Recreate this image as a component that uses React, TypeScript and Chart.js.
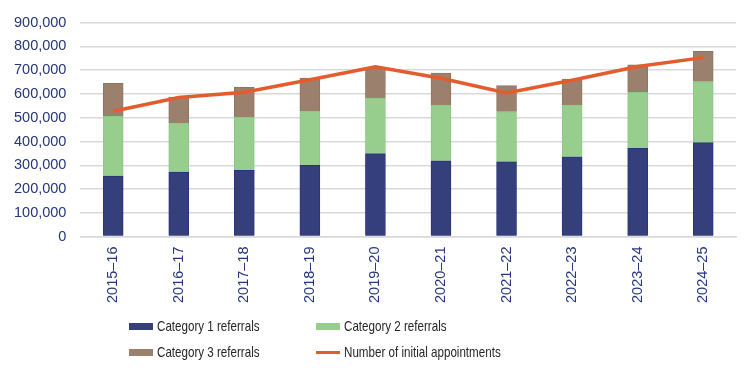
import React, { useEffect, useRef } from "react";
import { Chart, registerables } from "chart.js";

Chart.register(...registerables);

const categories = ["2015–16", "2016–17", "2017–18", "2018–19", "2019–20", "2020–21", "2021–22", "2022–23", "2023–24", "2024–25"];
const category1 = [254000, 271000, 279000, 300000, 349000, 319000, 314000, 336000, 371000, 395000];
const category2 = [252000, 207000, 223000, 227000, 234000, 234000, 211000, 217000, 236000, 257000];
const category3 = [139000, 109000, 126000, 140000, 127000, 135000, 110000, 110000, 116000, 127000];
const appointments = [527000, 585000, 607000, 660000, 714000, 666000, 604000, 658000, 716000, 753000];

const C1 = "#353F7C";
const C2 = "#97CE8E";
const C3 = "#9B806E";
const CL = "#E45B2E";
const TICK = "#26357E";

const legendItems = [
  { label: "Category 1 referrals", color: C1, kind: "box" },
  { label: "Category 2 referrals", color: C2, kind: "box" },
  { label: "Category 3 referrals", color: C3, kind: "box" },
  { label: "Number of initial appointments", color: CL, kind: "line" },
];

export default function App() {
  const ref = useRef<HTMLCanvasElement | null>(null);

  useEffect(() => {
    document.body.style.margin = "0";
    const ctx = ref.current;
    if (!ctx) return;
    const chart = new Chart(ctx, {
      type: "bar",
      data: {
        labels: categories,
        datasets: [
          { type: "line", label: "Number of initial appointments", data: appointments, borderColor: CL, backgroundColor: CL, borderWidth: 3.5, pointRadius: 0, tension: 0, order: 0, stack: "line" } as any,
          { label: "Category 1 referrals", data: category1, backgroundColor: C1, borderColor: "#2A3378", borderWidth: 1, order: 1, stack: "bars" },
          { label: "Category 2 referrals", data: category2, backgroundColor: C2, borderColor: "#8CC783", borderWidth: 1, order: 1, stack: "bars" },
          { label: "Category 3 referrals", data: category3, backgroundColor: C3, borderColor: "#917563", borderWidth: 1, order: 1, stack: "bars" },
        ],
      },
      options: {
        animation: false,
        responsive: false,
        maintainAspectRatio: false,
        layout: { padding: { left: 0, right: 14, top: 10, bottom: 69 } },
        plugins: { legend: { display: false }, tooltip: { enabled: false } },
        datasets: { bar: { barThickness: 20 } } as any,
        scales: {
          x: {
            stacked: true,
            grid: { display: false, drawTicks: false },
            border: { display: true, color: "#D9D9D9", width: 1.5 },
            ticks: {
              color: TICK,
              font: { family: "'Liberation Sans', Arial, sans-serif", size: 14.5 },
              minRotation: 90,
              maxRotation: 90,
              padding: 10,
            },
          },
          y: {
            stacked: true,
            min: 0,
            max: 900000,
            grid: { color: "#D9D9D9", lineWidth: 1.5, drawTicks: false },
            border: { display: false },
            ticks: {
              stepSize: 100000,
              color: TICK,
              padding: 14,
              font: { family: "'Liberation Sans', Arial, sans-serif", size: 14.5 },
              callback: (v: any) => Number(v).toLocaleString("en-US"),
            },
          },
        },
      },
    });
    return () => chart.destroy();
  }, []);

  const pos = [
    { left: 129, top: 326 },
    { left: 316, top: 326 },
    { left: 129, top: 352 },
    { left: 316, top: 352 },
  ];

  return (
    <div style={{ position: "relative", width: 750, height: 382, background: "#fff" }}>
      <canvas ref={ref} width={750} height={382} style={{ display: "block" }} />
      {legendItems.map((it, i) => (
        <div
          key={it.label}
          style={{
            position: "absolute",
            left: pos[i].left,
            top: pos[i].top - 10,
            height: 20,
            display: "flex",
            alignItems: "center",
            fontFamily: "'Liberation Sans', Arial, sans-serif",
            fontSize: 14.5,
            color: "#262626",
            whiteSpace: "nowrap",
          }}
        >
          <span
            style={{
              display: "inline-block",
              width: 24,
              height: it.kind === "box" ? 7 : 3,
              background: it.color,
              marginRight: 4,
            }}
          />
          <span style={{ display: "inline-block", transform: "scaleX(0.8)", transformOrigin: "left center" }}>{it.label}</span>
        </div>
      ))}
    </div>
  );
}
